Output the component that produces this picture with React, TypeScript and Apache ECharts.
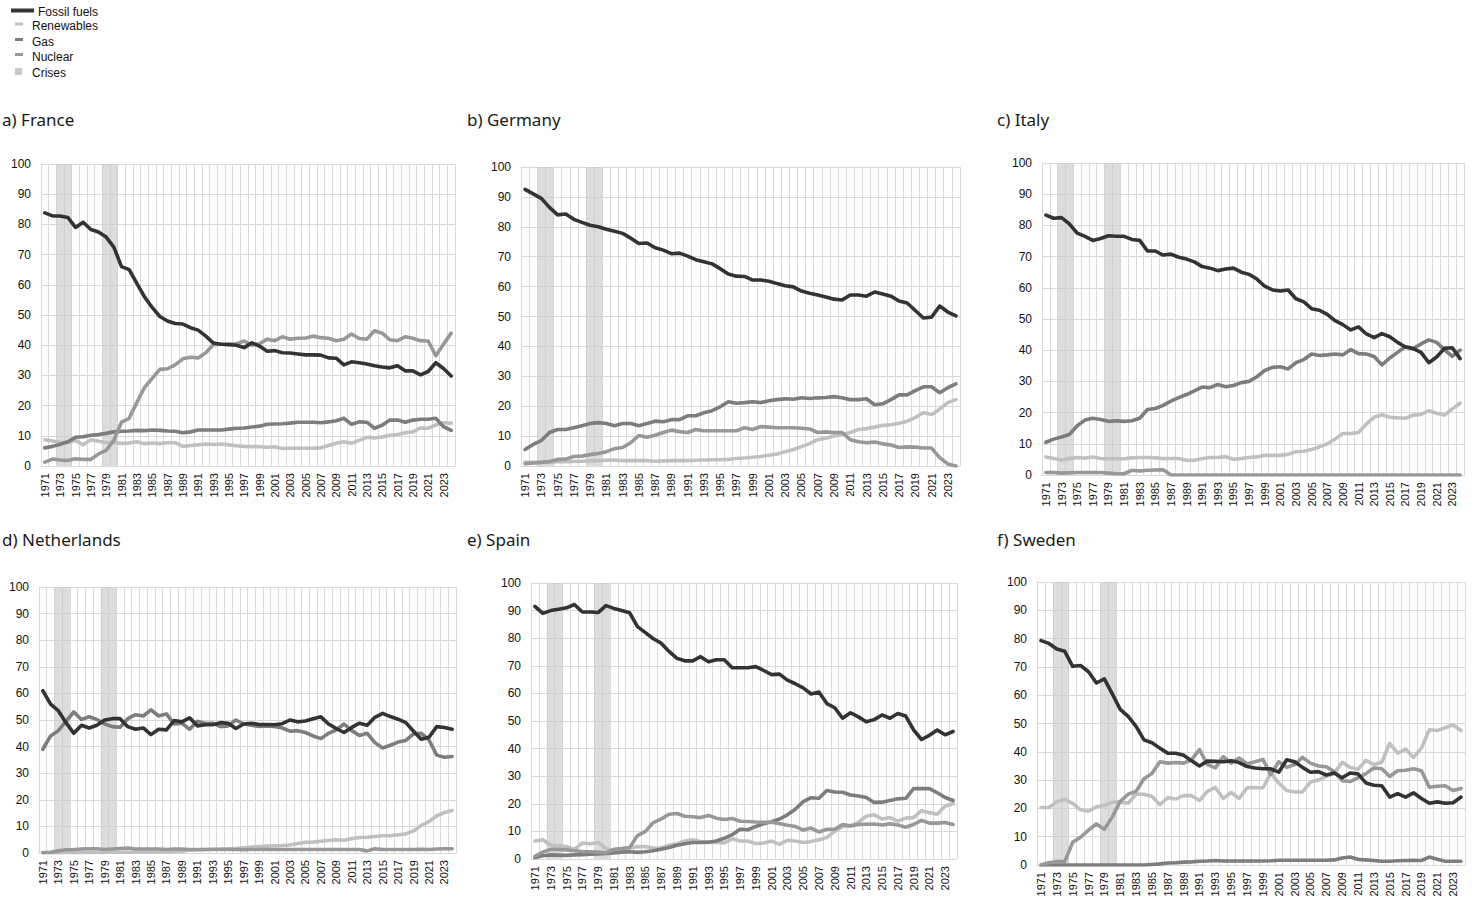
import React, { useEffect, useRef } from "react";
import * as echarts from "echarts";

const YEARS: string[] = Array.from({ length: 54 }, (_, i) => String(1971 + i));
const CRISIS_YEARS: string[] = ["1973", "1974", "1979", "1980"];
const Y_TICKS = { min: 0, max: 100, interval: 10 };

// a) France
const FR_FOSSIL = [83.8, 82.8, 82.8, 82.3, 79, 80.7, 78.3, 77.5, 75.8, 72.5, 66, 65, 60.5, 56, 52.5, 49.5, 48, 47.2, 47, 45.8, 45, 43, 40.7, 40.3, 40.2, 40, 39.2, 40.8, 39.7, 38, 38.2, 37.5, 37.4, 37.1, 36.8, 36.8, 36.7, 35.8, 35.7, 33.5, 34.5, 34.2, 33.8, 33.2, 32.8, 32.5, 33.2, 31.5, 31.5, 30.2, 31.3, 34.2, 32.3, 29.8];
const FR_RENEW = [8.7, 8.3, 7.8, 7.8, 8.5, 7, 8.7, 8.2, 7.8, 7.8, 7.5, 7.6, 8, 7.4, 7.6, 7.4, 7.7, 7.7, 6.5, 6.8, 7, 7.3, 7.1, 7.3, 7, 6.7, 6.5, 6.4, 6.4, 6.2, 6.4, 5.8, 5.9, 5.9, 5.9, 5.9, 6, 6.8, 7.5, 8, 7.5, 8.5, 9.5, 9.3, 9.6, 10.2, 10.4, 11, 11.3, 12.6, 12.5, 13.6, 14.3, 14.2];
const FR_GAS = [6, 6.5, 7.2, 8, 9.5, 9.7, 10.2, 10.4, 10.8, 11.3, 11.5, 11.6, 11.8, 11.7, 11.9, 11.8, 11.6, 11.5, 11, 11.3, 11.9, 11.9, 11.9, 11.9, 12.2, 12.5, 12.6, 12.9, 13.2, 13.8, 13.9, 14, 14.2, 14.5, 14.5, 14.5, 14.3, 14.6, 15, 15.8, 13.8, 14.6, 14.5, 12.5, 13.5, 15.2, 15.2, 14.5, 15.2, 15.5, 15.5, 15.8, 13, 11.8];
const FR_NUCLEAR = [1.3, 2.3, 2, 1.8, 2.4, 2.2, 2.2, 4, 5.2, 8.5, 14.5, 15.8, 21, 26, 29, 32, 32.2, 33.5, 35.5, 36, 35.8, 37.5, 40.2, 40.3, 40.4, 40.5, 41.4, 40, 40.5, 42, 41.5, 42.8, 42, 42.3, 42.4, 43, 42.5, 42.3, 41.5, 42, 43.7, 42.2, 42, 44.8, 44, 41.8, 41.5, 42.8, 42.3, 41.5, 41.4, 36.5, 40.3, 44];

// b) Germany
const DE_FOSSIL = [92.5, 91, 89.5, 86.5, 84, 84.3, 82.5, 81.5, 80.5, 80, 79.2, 78.5, 77.8, 76.2, 74.4, 74.6, 73, 72.2, 71, 71.2, 70.2, 69, 68.3, 67.6, 66, 64.2, 63.5, 63.4, 62.2, 62.2, 61.8, 61, 60.3, 59.9, 58.5, 57.8, 57.2, 56.5, 55.8, 55.5, 57.2, 57.2, 56.8, 58.2, 57.5, 56.8, 55.2, 54.5, 52, 49.5, 49.8, 53.5, 51.5, 50.2];
const DE_RENEW = [1.2, 1.2, 1.2, 1.3, 1.4, 1.4, 1.5, 1.6, 1.7, 1.8, 1.9, 2, 1.8, 1.8, 1.8, 1.8, 1.6, 1.7, 1.8, 1.8, 1.8, 1.9, 2, 2.1, 2.1, 2.2, 2.5, 2.7, 2.9, 3.2, 3.6, 4, 4.8, 5.5, 6.5, 7.5, 8.8, 9.3, 10, 10.5, 11.2, 12.2, 12.5, 13, 13.6, 13.8, 14.3, 15, 16.2, 17.8, 17.2, 19, 21.2, 22.2];
const DE_GAS = [5.5, 7.2, 8.5, 11.2, 12.2, 12.2, 12.8, 13.5, 14.2, 14.5, 14.2, 13.5, 14.2, 14.2, 13.5, 14.2, 15, 14.8, 15.5, 15.5, 16.8, 16.8, 17.8, 18.5, 19.8, 21.5, 21, 21.2, 21.5, 21.2, 21.8, 22.2, 22.5, 22.3, 22.8, 22.6, 22.8, 22.9, 23.2, 22.8, 22.2, 22.2, 22.5, 20.5, 20.8, 22.2, 23.8, 23.8, 25.2, 26.5, 26.5, 24.5, 26.2, 27.5];
const DE_NUCLEAR = [0.8, 1, 1.2, 1.5, 2.2, 2.3, 3.2, 3.3, 3.8, 4.2, 4.8, 5.8, 6.2, 7.8, 10.2, 9.6, 10.3, 11.2, 12, 11.5, 11.2, 12.2, 11.8, 11.8, 11.8, 11.8, 11.8, 12.8, 12.2, 13.2, 13, 12.8, 12.8, 12.8, 12.6, 12.4, 11.2, 11.4, 11.2, 11.2, 8.8, 8.1, 7.8, 8, 7.4, 7, 6.2, 6.4, 6.3, 6, 6, 2.8, 0.7, 0];

// c) Italy
const IT_FOSSIL = [83.3, 82.3, 82.5, 80.5, 77.5, 76.5, 75.2, 75.8, 76.7, 76.5, 76.5, 75.5, 75.2, 71.8, 71.8, 70.5, 70.8, 69.8, 69.2, 68.3, 66.8, 66.3, 65.5, 66, 66.3, 65, 64.3, 62.8, 60.5, 59.3, 59, 59.3, 56.5, 55.5, 53.3, 52.8, 51.5, 49.5, 48.2, 46.5, 47.5, 45.2, 44, 45.3, 44.3, 42.5, 41, 40.5, 39.3, 36, 37.8, 40.6, 40.8, 37.3];
const IT_RENEW = [5.8, 5.3, 4.8, 5.3, 5.6, 5.4, 5.8, 5.3, 5.2, 5.2, 5.2, 5.5, 5.6, 5.6, 5.5, 5.3, 5.3, 5.3, 4.7, 4.7, 5.3, 5.6, 5.6, 5.9, 5, 5.3, 5.6, 5.8, 6.3, 6.3, 6.3, 6.6, 7.5, 7.6, 8.2, 9, 10, 11.5, 13.3, 13.3, 13.6, 16.3, 18.5, 19.3, 18.5, 18.3, 18.2, 19.2, 19.4, 20.6, 19.8, 19.2, 21.2, 23];
const IT_GAS = [10.5, 11.5, 12.2, 13, 15.8, 17.6, 18.2, 17.8, 17.2, 17.4, 17.2, 17.4, 18.2, 21, 21.3, 22.3, 23.7, 24.8, 25.8, 27, 28.2, 28, 29, 28.3, 28.7, 29.6, 30, 31.5, 33.5, 34.5, 34.7, 34, 36, 37, 38.8, 38.3, 38.5, 38.8, 38.5, 40.2, 38.9, 38.8, 38, 35.3, 37.5, 39.3, 41.2, 40.5, 42, 43.3, 42.5, 40.2, 38, 40];
const IT_NUCLEAR = [0.8, 0.8, 0.6, 0.7, 0.8, 0.8, 0.8, 0.8, 0.6, 0.4, 0.4, 1.5, 1.3, 1.5, 1.6, 1.7, 0, 0, 0, 0, 0, 0, 0, 0, 0, 0, 0, 0, 0, 0, 0, 0, 0, 0, 0, 0, 0, 0, 0, 0, 0, 0, 0, 0, 0, 0, 0, 0, 0, 0, 0, 0, 0, 0];

// d) Netherlands
const NL_FOSSIL = [61, 56, 53.5, 49, 45, 48, 47, 48, 50, 50.5, 50.5, 47.5, 46.5, 47, 44.5, 46.5, 46.3, 49.8, 49.3, 50.8, 47.8, 48.2, 48.2, 49, 48.8, 46.8, 48.5, 48.8, 48.3, 48.3, 48.2, 48.6, 50, 49.3, 49.6, 50.5, 51.2, 48.5, 46.8, 45.3, 47.2, 48.8, 48, 51, 52.5, 51.3, 50.3, 49, 45.8, 42.8, 43.5, 47.5, 47.2, 46.5];
const NL_RENEW = [0.1, 0.1, 0.1, 0.2, 0.2, 0.2, 0.2, 0.2, 0.2, 0.3, 0.3, 0.3, 0.3, 0.3, 0.3, 0.4, 0.4, 0.5, 0.7, 1.1, 1.2, 1.3, 1.4, 1.5, 1.6, 1.7, 2, 2.2, 2.4, 2.6, 2.7, 2.8, 3, 3.6, 4, 4.1, 4.4, 4.7, 5, 4.8, 5.4, 5.8, 5.9, 6.2, 6.5, 6.5, 6.8, 7.2, 8.3, 10.4, 11.8, 14, 15.2, 16];
const NL_GAS = [39, 44, 46, 49.5, 53, 50.2, 51.2, 50.2, 48.5, 47.5, 47.3, 50.5, 52, 51.5, 53.8, 51.5, 52.3, 48.5, 48.8, 46.5, 49.5, 48.8, 48.8, 47.5, 47.8, 50, 48.5, 48, 47.6, 47.8, 47.6, 47, 45.8, 46, 45.3, 44, 43, 45, 46.3, 48.5, 46, 44.2, 45, 41.5, 39.5, 40.5, 41.7, 42.3, 44.8, 45, 42.5, 36.8, 36, 36.3];
const NL_NUCLEAR = [0.2, 0.3, 0.8, 1.2, 1.3, 1.5, 1.6, 1.6, 1.3, 1.5, 1.7, 1.9, 1.5, 1.5, 1.5, 1.5, 1.3, 1.5, 1.5, 1.3, 1.3, 1.3, 1.3, 1.3, 1.3, 1.3, 1.2, 1.3, 1.3, 1.3, 1.3, 1.3, 1.3, 1.3, 1.3, 1.3, 1.3, 1.3, 1.3, 1.3, 1.3, 1.3, 0.8, 1.6, 1.3, 1.3, 1.3, 1.3, 1.3, 1.4, 1.3, 1.5, 1.6, 1.6];

// e) Spain
const ES_FOSSIL = [91.5, 89, 90, 90.5, 91, 92.2, 89.5, 89.5, 89.3, 91.8, 90.8, 90, 89.2, 84.2, 82, 79.8, 78.2, 75.2, 72.7, 71.8, 71.8, 73.3, 71.5, 72.2, 72.2, 69.3, 69.3, 69.3, 69.7, 68.3, 66.8, 67, 64.8, 63.5, 62, 59.8, 60.5, 56.3, 54.8, 51, 53, 51.5, 49.7, 50.5, 52.2, 51, 52.7, 51.8, 46.8, 43.3, 44.8, 46.7, 45, 46.2];
const ES_RENEW = [6.5, 7, 5, 4.8, 4.5, 3.5, 5.8, 5.5, 6, 3.8, 3, 3.5, 4, 4.5, 4.5, 4, 4, 5, 5.5, 6.5, 7, 6.3, 6, 6, 5.8, 7.3, 6.5, 6.5, 5.5, 5.8, 6.5, 5.3, 6.8, 6.5, 6, 6.3, 7, 7.8, 10, 11.8, 12, 13.3, 15.5, 16, 14.5, 15, 13.7, 14.8, 15, 17.5, 16.8, 16.2, 19.2, 20];
const ES_GAS = [0.5, 1.2, 1.5, 1.4, 1.3, 1.5, 1.6, 1.7, 1.8, 2, 2.2, 2.5, 2.6, 2.4, 2.6, 3, 3.5, 4.2, 5, 5.5, 6, 6, 6.1, 6.5, 7.5, 8.8, 10.8, 10.6, 11.8, 12.8, 13.5, 14.5, 16, 18, 20.8, 22.2, 22, 24.8, 24.3, 24.2, 23.2, 22.8, 22.3, 20.5, 20.6, 21.2, 21.8, 22, 25.5, 25.5, 25.5, 24, 22.3, 21.2];
const ES_NUCLEAR = [1, 2.5, 3.5, 3.5, 3.3, 3, 2.7, 2.6, 2.5, 2.2, 3.5, 3.8, 4.2, 8.5, 10, 13.2, 14.5, 16.2, 16.5, 15.5, 15.3, 15, 15.8, 14.8, 14.3, 14.7, 13.7, 13.6, 13.4, 13.3, 13.3, 12.8, 12.2, 11.8, 10.5, 11.2, 9.8, 10.8, 10.8, 12.5, 12, 12.5, 12.6, 12.7, 12.3, 12.8, 12.3, 11.5, 12.5, 14, 13, 13, 13.2, 12.5];

// f) Sweden
const SE_FOSSIL = [79.3, 78.3, 76.3, 75.5, 70.2, 70.5, 68.3, 64.3, 65.8, 60.5, 55, 52.5, 49, 44.2, 43.2, 41.3, 39.5, 39.5, 38.8, 36.8, 35, 36.7, 36.6, 36.5, 36.8, 36.2, 34.8, 34.3, 34, 34, 32.8, 37.2, 36.5, 34.5, 32.8, 33, 31.8, 32.5, 30.8, 32.5, 32.2, 29, 28.2, 28, 24, 25.2, 24, 25.5, 23.5, 21.8, 22.3, 21.8, 22, 24];
const SE_RENEW = [20.3, 20.3, 22.3, 23.2, 21.8, 19.5, 19, 20.6, 21, 22.2, 22.3, 21.8, 25, 25, 24.3, 21.3, 23.8, 23.3, 24.5, 24.5, 22.8, 26, 27.4, 23.5, 25.6, 23.5, 27.3, 27.4, 27.2, 32.5, 29, 26.3, 25.8, 25.8, 29.3, 30, 31.3, 32.3, 36.3, 34.5, 33.8, 37, 35.5, 36.3, 43, 39.5, 41, 38, 41.3, 47.8, 47.5, 48.5, 49.5, 47.5];
const SE_GAS = [0, 0, 0, 0, 0, 0, 0, 0, 0, 0, 0, 0, 0, 0, 0.2, 0.4, 0.7, 0.8, 1, 1.1, 1.3, 1.4, 1.6, 1.4, 1.4, 1.4, 1.4, 1.4, 1.4, 1.5, 1.7, 1.7, 1.7, 1.7, 1.7, 1.7, 1.7, 1.8, 2.5, 2.8, 2, 1.8, 1.6, 1.3, 1.3, 1.5, 1.6, 1.7, 1.6, 2.8, 2, 1.3, 1.3, 1.3];
const SE_NUCLEAR = [0, 0.8, 1.2, 1.2, 8, 9.8, 12.3, 14.5, 12.6, 17, 22.5, 25, 26, 30.5, 32.3, 36.5, 36, 36.2, 36, 37.2, 40.8, 35.5, 34.3, 38.3, 36, 37.8, 35.8, 36.5, 37.3, 32, 36.5, 34.5, 35.5, 38, 36, 35, 34.7, 33, 29.8, 29.5, 30.8, 32.3, 34.3, 34, 31.3, 33.3, 33.5, 34, 33.3, 27.5, 27.8, 28, 26.3, 27];

const SERIES_NAMES = ["Fossil fuels", "Renewables", "Gas", "Nuclear", "Crises"];
const COLORS: Record<string, string> = {
  "Fossil fuels": "#333333",
  Renewables: "#c0c0c0",
  Gas: "#7d7d7d",
  Nuclear: "#989898",
  Crises: "#c8c8c8",
};

const PANELS = [
  { title: "a) France", fossil: FR_FOSSIL, renew: FR_RENEW, gas: FR_GAS, nuclear: FR_NUCLEAR },
  { title: "b) Germany", fossil: DE_FOSSIL, renew: DE_RENEW, gas: DE_GAS, nuclear: DE_NUCLEAR },
  { title: "c) Italy", fossil: IT_FOSSIL, renew: IT_RENEW, gas: IT_GAS, nuclear: IT_NUCLEAR },
  { title: "d) Netherlands", fossil: NL_FOSSIL, renew: NL_RENEW, gas: NL_GAS, nuclear: NL_NUCLEAR },
  { title: "e) Spain", fossil: ES_FOSSIL, renew: ES_RENEW, gas: ES_GAS, nuclear: ES_NUCLEAR },
  { title: "f) Sweden", fossil: SE_FOSSIL, renew: SE_RENEW, gas: SE_GAS, nuclear: SE_NUCLEAR },
];

// layout (pixels)
const LAYOUT = [
  { left: 41, top: 164, width: 414, height: 302, tx: 2, ty: 119 },
  { left: 521, top: 167, width: 439, height: 299, tx: 467, ty: 119 },
  { left: 1042, top: 163, width: 422, height: 312, tx: 997, ty: 119 },
  { left: 39, top: 587, width: 417, height: 266, tx: 2, ty: 539 },
  { left: 531, top: 583, width: 426, height: 276, tx: 467, ty: 539 },
  { left: 1037, top: 582, width: 428, height: 283, tx: 997, ty: 539 },
];

const GRID_COLOR = "#d9d9d9";
const FONT = "'Liberation Sans', Arial, sans-serif";

function buildOption() {
  const grid: any[] = [];
  const xAxis: any[] = [];
  const yAxis: any[] = [];
  const series: any[] = [];
  const graphic: any[] = [];
  const crisisData = YEARS.map((y) => (CRISIS_YEARS.includes(y) ? Y_TICKS.max : null));

  PANELS.forEach((p, i) => {
    const L = LAYOUT[i];
    grid.push({ left: L.left, top: L.top, width: L.width, height: L.height, containLabel: false });
    xAxis.push({
      type: "category",
      gridIndex: i,
      data: YEARS,
      boundaryGap: true,
      axisLine: { show: true, lineStyle: { color: GRID_COLOR, width: 1 } },
      axisTick: { show: false },
      axisLabel: { interval: 1, rotate: 90, fontSize: 11, color: "#111", fontFamily: FONT, margin: 7 },
      splitLine: { show: true, interval: 0, lineStyle: { color: GRID_COLOR, width: 1 } },
    });
    yAxis.push({
      type: "value",
      gridIndex: i,
      min: Y_TICKS.min,
      max: Y_TICKS.max,
      interval: Y_TICKS.interval,
      axisLine: { show: true, lineStyle: { color: GRID_COLOR, width: 1 } },
      axisTick: { show: false },
      axisLabel: { fontSize: 12, color: "#111", fontFamily: FONT, margin: 10 },
      splitLine: { show: true, lineStyle: { color: GRID_COLOR, width: 1 } },
    });
    series.push({
      name: "Crises",
      type: "bar",
      xAxisIndex: i,
      yAxisIndex: i,
      data: crisisData,
      barWidth: "100%",
      itemStyle: { color: "rgba(200,200,200,0.62)" },
      silent: true,
      z: 1,
    });
    const lines: [string, number[]][] = [
      ["Renewables", p.renew],
      ["Gas", p.gas],
      ["Nuclear", p.nuclear],
      ["Fossil fuels", p.fossil],
    ];
    lines.forEach(([name, data], k) => {
      series.push({
        name,
        type: "line",
        xAxisIndex: i,
        yAxisIndex: i,
        data,
        showSymbol: false,
        symbol: "none",
        lineStyle: { color: COLORS[name], width: 3.6, cap: "round", join: "round" },
        itemStyle: { color: COLORS[name] },
        z: 3 + k,
      });
    });
    graphic.push({
      type: "text",
      x: L.tx,
      y: L.ty,
      style: {
        text: p.title,
        font: "17px 'Noto Sans', 'Open Sans', sans-serif",
        fill: "#1a1a1a",
        textVerticalAlign: "middle",
      },
    });
  });

  // legend (drawn)
  const legendRows = [
    { name: SERIES_NAMES[0], icon: { x: 11, y: 8.5, w: 23, h: 4 }, tx: 38, ty: 12 },
    { name: SERIES_NAMES[1], icon: { x: 15, y: 22.5, w: 8, h: 3 }, tx: 32, ty: 26 },
    { name: SERIES_NAMES[2], icon: { x: 15, y: 38, w: 8, h: 3 }, tx: 32, ty: 42 },
    { name: SERIES_NAMES[3], icon: { x: 15, y: 53, w: 8, h: 3 }, tx: 32, ty: 57 },
    { name: SERIES_NAMES[4], icon: { x: 15, y: 68, w: 7, h: 7 }, tx: 32, ty: 73 },
  ];
  legendRows.forEach((r) => {
    graphic.push({
      type: "rect",
      shape: { x: r.icon.x, y: r.icon.y, width: r.icon.w, height: r.icon.h },
      style: { fill: COLORS[r.name] },
    });
    graphic.push({
      type: "text",
      x: r.tx,
      y: r.ty,
      style: { text: r.name, font: `12px ${FONT}`, fill: "#111", textVerticalAlign: "middle" },
    });
  });

  return { animation: false, backgroundColor: "#ffffff", grid, xAxis, yAxis, series, graphic };
}

export default function App() {
  const ref = useRef<HTMLDivElement>(null);
  useEffect(() => {
    if (!ref.current) return;
    const chart = echarts.init(ref.current, undefined, { renderer: "svg" });
    chart.setOption(buildOption() as any);
    return () => chart.dispose();
  }, []);
  return (
    <div
      ref={ref}
      style={{ position: "absolute", left: 0, top: 0, width: 1482, height: 912, background: "#fff" }}
    />
  );
}
